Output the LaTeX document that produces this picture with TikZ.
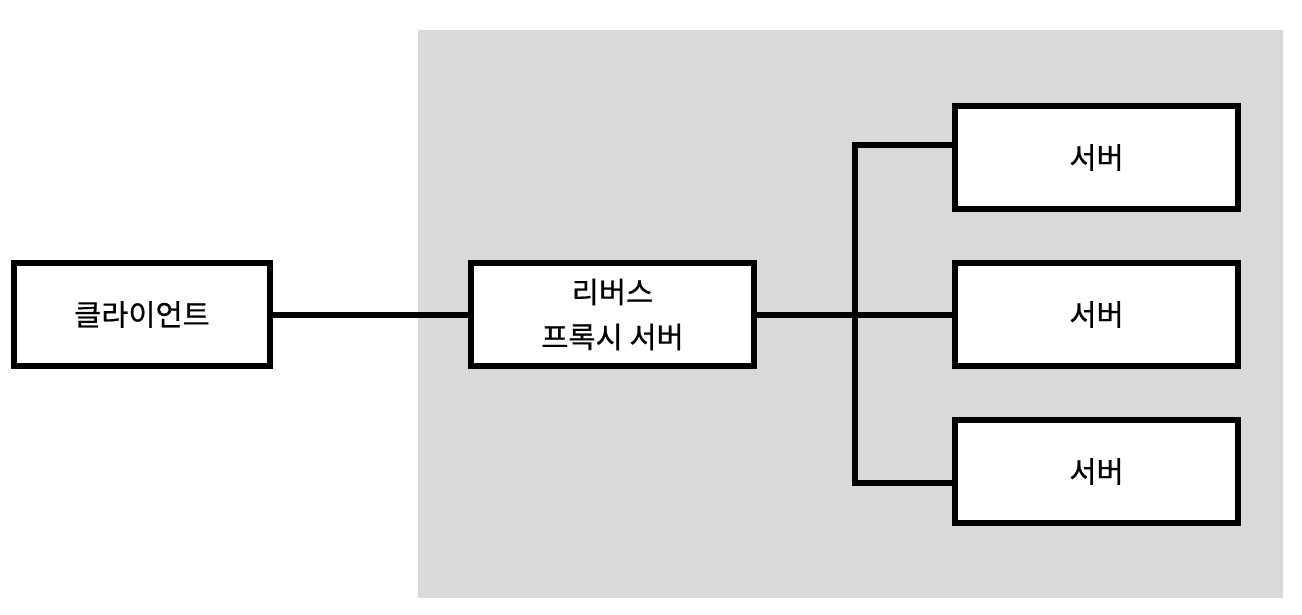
\documentclass[tikz,border=0pt]{standalone}
\usepackage{fontspec}
\newfontfamily\kr[FakeBold=0.6]{Noto Sans CJK KR}
\definecolor{bggray}{RGB}{217,217,217}
\begin{document}
\begin{tikzpicture}[x=1pt,y=-1pt,
  box/.style={draw=black,fill=white,line width=6pt,inner sep=0pt,outer sep=0pt,
    minimum width=283pt,minimum height=103pt,align=center,
    font=\kr\fontsize{29.5}{45}\selectfont},
  wire/.style={line width=6pt,draw=black,line join=miter}]
\useasboundingbox (0,0) rectangle (1302,615);
\fill[bggray] (418,30) rectangle (1283,598);
\node[box,minimum width=256pt] (client) at (142,314.5) {클라이언트};
\node[box] (proxy) at (612.5,314.5) {리버스\\프록시 서버};
\node[box] (s1) at (1096.5,157.5) {서버};
\node[box] (s2) at (1096.5,314.5) {서버};
\node[box] (s3) at (1096.5,471.5) {서버};
\coordinate (bt) at (855,145.5);
\coordinate (bb) at (855,482.5);
\draw[wire] (client.east) -- (proxy.west);
\draw[wire] (proxy.east) -- (s2.west);
\draw[wire] (s1.west |- bt) -- (bt) -- (bb) -- (s3.west |- bb);
\end{tikzpicture}
\end{document}
